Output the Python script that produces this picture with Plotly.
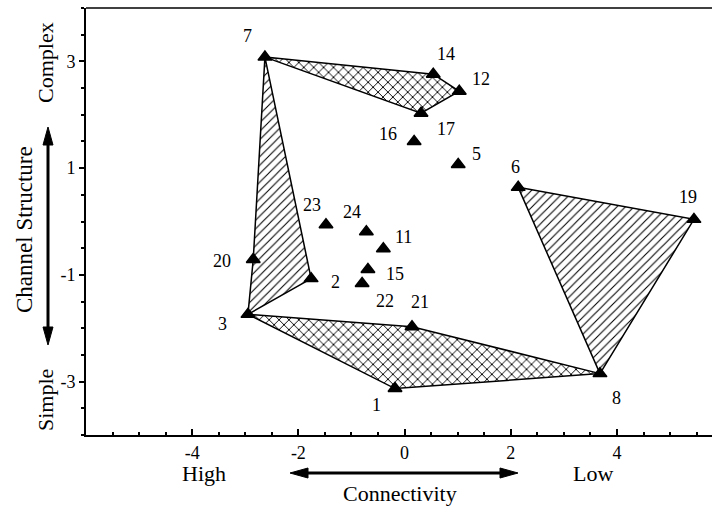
import plotly.graph_objects as go

# ---------------- data ----------------
point_ids = [1, 2, 3, 5, 6, 7, 8, 11, 12, 14, 15, 16, 17, 19, 20, 21, 22, 23, 24]
connectivity = [-0.18, -1.76, -2.95, 1.01, 2.14, -2.63, 3.68, -0.40, 1.03, 0.54,
                -0.69, 0.18, 0.31, 5.45, -2.85, 0.14, -0.80, -1.48, -0.72]
channel_structure = [-3.13, -1.07, -1.74, 1.07, 0.64, 3.08, -2.85, -0.51, 2.44, 2.76,
                     -0.90, 1.50, 2.03, 0.04, -0.71, -1.97, -1.16, -0.06, -0.19]

group_cross_top = [7, 14, 12, 17]
group_hatch_left = [7, 2, 3, 20]
group_hatch_right = [6, 19, 8]
group_cross_bottom = [3, 21, 8, 1]

x_tick_vals = [-4, -2, 0, 2, 4]
y_tick_vals = [-3, -1, 1, 3]

# label offsets in pixels (dx, dy up)
label_offsets = {1: (-19, -16), 2: (24, -3), 3: (-25, -10), 5: (18, 10), 6: (-3, 20),
                 7: (-17, 21), 8: (17, -24), 11: (20, 12), 12: (22, 12), 14: (13, 20),
                 15: (27, -4), 16: (-26, 7), 17: (25, -16), 19: (-6, 22), 20: (-31, -2),
                 21: (8, 25), 22: (23, -18), 23: (-14, 20), 24: (-14, 20)}

W, H = 712, 506
ML, MR, MT, MB = 86, 0, 8, 71
FONT = "Liberation Serif, Times New Roman, serif"

lookup = {pid: (x, y) for pid, x, y in zip(point_ids, connectivity, channel_structure)}

fig = go.Figure()


def add_polygon(group, shape, size, solidity):
    xs = [lookup[p][0] for p in group] + [lookup[group[0]][0]]
    ys = [lookup[p][1] for p in group] + [lookup[group[0]][1]]
    fig.add_trace(go.Scatter(
        x=xs, y=ys, mode="lines", fill="toself",
        fillcolor="white",
        fillpattern=dict(shape=shape, size=size, solidity=solidity,
                         fgcolor="black", bgcolor="white", fgopacity=1),
        line=dict(color="black", width=1.5),
        hoverinfo="skip", showlegend=False))


add_polygon(group_cross_top, "x", 7, 0.25)
add_polygon(group_hatch_left, "/", 6, 0.18)
add_polygon(group_hatch_right, "/", 6, 0.18)
add_polygon(group_cross_bottom, "x", 7, 0.25)

fig.add_trace(go.Scatter(
    x=connectivity, y=channel_structure, mode="markers",
    marker=dict(symbol="triangle-up", size=12, color="black",
                line=dict(color="black", width=1.5)),
    text=[str(p) for p in point_ids], hoverinfo="text", showlegend=False))

annotations = []
for pid, x, y in zip(point_ids, connectivity, channel_structure):
    dx, dy = label_offsets[pid]
    annotations.append(dict(x=x, y=y, xref="x", yref="y", text=str(pid),
                            showarrow=False, xshift=dx, yshift=dy,
                            font=dict(family=FONT, size=18, color="black")))

PW = W - ML - MR
PH = H - MT - MB


def px(xp):
    return (xp - ML) / PW


def py(yp):
    return (H - MB - yp) / PH


def txt(xp, yp, s, angle=0, size=22):
    annotations.append(dict(x=px(xp), y=py(yp), xref="paper", yref="paper",
                            text=s, showarrow=False, textangle=angle,
                            xanchor="center", yanchor="middle",
                            font=dict(family=FONT, size=size, color="black")))


txt(45, 63, "Complex", -90)
txt(24, 230, "Channel Structure", -90, 23)
txt(45, 400, "Simple", -90)
txt(204, 473, "High")
txt(593, 473, "Low")
txt(400, 494, "Connectivity")

shapes = []
# top frame line
shapes.append(dict(type="line", xref="paper", yref="paper", x0=0, x1=1, y0=1, y1=1,
                   line=dict(color="#404040", width=2)))

# horizontal double arrow
hx0, hx1, hy, hl, hw = 290, 518, 473, 18, 5
shapes.append(dict(type="line", xref="paper", yref="paper",
                   x0=px(hx0 + hl - 2), x1=px(hx1 - hl + 2), y0=py(hy), y1=py(hy),
                   line=dict(color="black", width=3)))
for tip, base in ((hx0, hx0 + hl), (hx1, hx1 - hl)):
    shapes.append(dict(type="path", xref="paper", yref="paper",
                       path=f"M {px(tip)} {py(hy)} L {px(base)} {py(hy - hw)} L {px(base)} {py(hy + hw)} Z",
                       fillcolor="black", line=dict(color="black", width=1)))

# vertical double arrow
vx, vy0, vy1 = 48, 127, 345
shapes.append(dict(type="line", xref="paper", yref="paper",
                   x0=px(vx), x1=px(vx), y0=py(vy0 + hl - 2), y1=py(vy1 - hl + 2),
                   line=dict(color="black", width=3)))
for tip, base in ((vy0, vy0 + hl), (vy1, vy1 - hl)):
    shapes.append(dict(type="path", xref="paper", yref="paper",
                       path=f"M {px(vx)} {py(tip)} L {px(vx - hw)} {py(base)} L {px(vx + hw)} {py(base)} Z",
                       fillcolor="black", line=dict(color="black", width=1)))

fig.update_layout(
    width=W, height=H,
    margin=dict(l=ML, r=MR, t=MT, b=MB, autoexpand=False),
    paper_bgcolor="white", plot_bgcolor="white",
    annotations=annotations, shapes=shapes,
    font=dict(family=FONT, size=18, color="black"),
    xaxis=dict(range=[-6, 5.79], tickvals=x_tick_vals, ticktext=[str(v) for v in x_tick_vals],
               showgrid=False, zeroline=False, showline=True, linecolor="black", linewidth=2,
               ticks="inside", ticklen=6, tickwidth=1.5, tickcolor="black", automargin=False,
               minor=dict(dtick=0.5, tick0=0, ticks="inside", ticklen=3, tickwidth=1.5,
                          tickcolor="black", showgrid=False),
               tickfont=dict(family=FONT, size=18, color="black")),
    yaxis=dict(range=[-4, 4], tickvals=y_tick_vals, ticktext=[str(v) for v in y_tick_vals],
               showgrid=False, zeroline=False, showline=True, linecolor="black", linewidth=2,
               ticks="outside", ticklen=5, tickwidth=1.5, tickcolor="black", automargin=False,
               minor=dict(dtick=0.5, tick0=0, ticks="outside", ticklen=3, tickwidth=1.5,
                          tickcolor="black", showgrid=False),
               tickfont=dict(family=FONT, size=18, color="black")),
)

fig.write_html("out.html", config={"displayModeBar": False},
               post_script="document.body.style.margin='0';document.body.style.padding='0';")
